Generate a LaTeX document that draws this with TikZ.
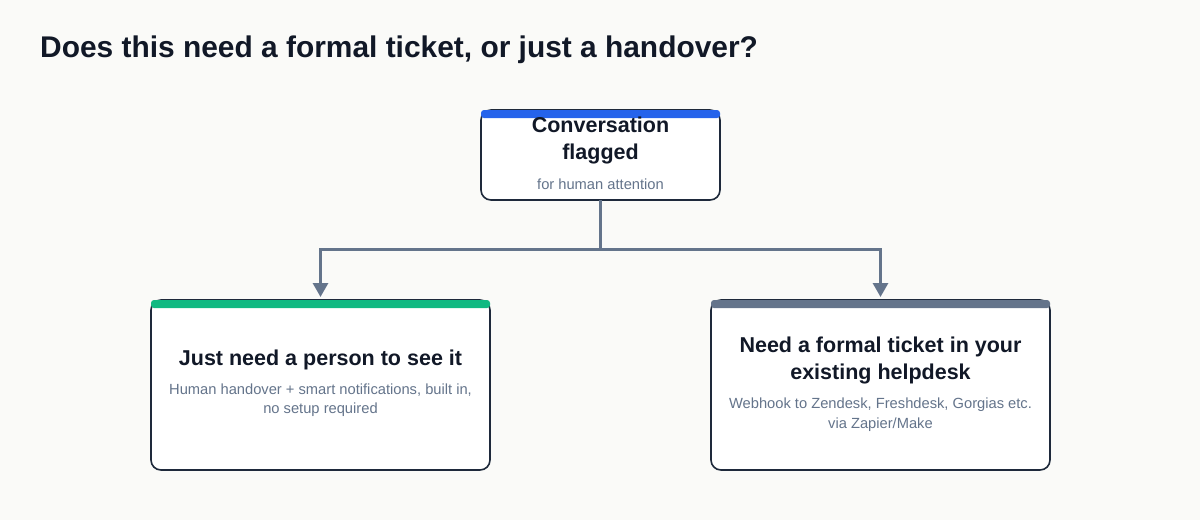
\documentclass[tikz,border=0pt]{standalone}
\usepackage{fontspec}
\setmainfont{Liberation Sans}
\usetikzlibrary{arrows.meta}
\definecolor{bgc}{HTML}{FAFAF8}
\definecolor{ink}{HTML}{111827}
\definecolor{edge}{HTML}{1E293B}
\definecolor{muted}{HTML}{64748B}
\definecolor{conn}{HTML}{64748B}
\definecolor{barblue}{HTML}{2563EB}
\definecolor{bargreen}{HTML}{10B981}
\definecolor{barslate}{HTML}{64748B}
\tikzset{
  card/.style={draw=edge, line width=1.6pt, fill=white, rounded corners=10pt},
  headfont/.style={font=\fontsize{21.5}{27.5}\selectfont\bfseries, text=ink, align=center},
  subfont/.style={font=\fontsize{14.7}{19.5}\selectfont, text=muted, align=center},
  connector/.style={draw=conn, line width=3pt},
  arrowc/.style={connector, -{Triangle[width=15pt,length=14pt]}},
}
\begin{document}
\begin{tikzpicture}[x=1pt,y=-1pt]
\useasboundingbox[fill=bgc] (0,0) rectangle (1200,520);
\node[anchor=base west, inner sep=0pt, font=\fontsize{29.9}{34}\selectfont\bfseries, text=ink] (title) at (40,57) {Does this need a formal ticket, or just a handover?};

% top card
\path[card] (481,110) rectangle (720,200);
\fill[barblue, rounded corners=3pt] (481,110) rectangle (720,118);
\node[headfont] (tophead) at (600.5,140.5) {Conversation\\flagged};
\node[subfont] (topsub) at (600.5,184) {for human attention};
\coordinate (topbot) at (600.5,200);

% left card
\path[card] (151,300) rectangle (490,470);
\fill[bargreen, rounded corners=3pt] (151,300) rectangle (490,308);
\node[headfont] (lhead) at (320.5,360) {Just need a person to see it};
\node[subfont] (lsub) at (320.5,400) {Human handover + smart notifications, built in,\\no setup required};
\coordinate (ltop) at (320.5,297);

% right card
\path[card] (711,300) rectangle (1050,470);
\fill[barslate, rounded corners=3pt] (711,300) rectangle (1050,308);
\node[headfont] (rhead) at (880.5,360.5) {Need a formal ticket in your\\existing helpdesk};
\node[subfont] (rsub) at (880.5,414.5) {Webhook to Zendesk, Freshdesk, Gorgias etc.\\via Zapier/Make};
\coordinate (rtop) at (880.5,297);

\coordinate (junc) at (600.5,249.5);
\draw[connector] (topbot) -- (junc);
\draw[arrowc] (junc) -| (ltop);
\draw[arrowc] (junc) -| (rtop);
\end{tikzpicture}
\end{document}
